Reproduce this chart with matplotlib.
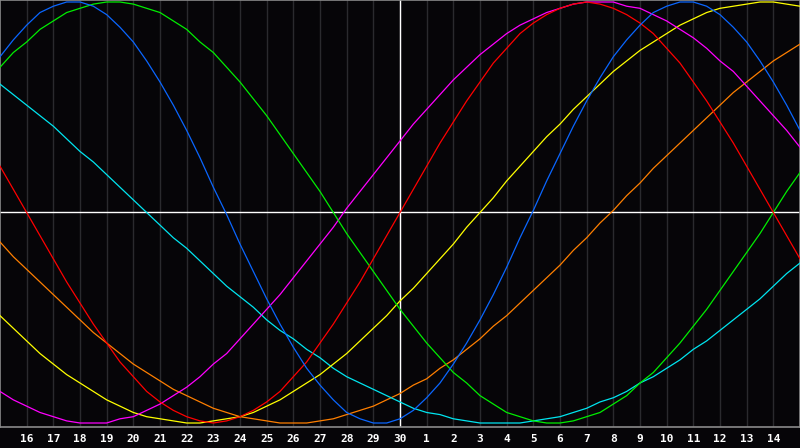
import matplotlib
matplotlib.use("Agg")
import matplotlib.pyplot as plt

# day labels along the bottom (15th .. 15th of next month)
day_labels = [str(i) for i in range(16, 31)] + [str(i) for i in range(1, 15)]

# cycle values in percent, every half day from the 15th to the 15th
physical = [74, 82, 89, 95, 98, 100, 100, 98, 94, 88, 81, 72, 62, 51, 39, 26, 12, -1, -15, -28,
            -41, -53, -64, -74, -82, -89, -95, -98, -100, -100, -98, -94, -88, -81, -72, -62, -51, -39, -26, -12,
            1, 15, 28, 41, 53, 64, 74, 82, 89, 95, 98, 100, 100, 98, 94, 88, 81, 72, 62, 51, 39]
emotional = [22, 11, 0, -11, -22, -33, -43, -53, -62, -71, -78, -85, -90, -94, -97, -99, -100, -99, -97, -94,
             -90, -85, -78, -71, -62, -53, -43, -33, -22, -11, 0, 11, 22, 33, 43, 53, 62, 71, 78, 85,
             90, 94, 97, 99, 100, 99, 97, 94, 90, 85, 78, 71, 62, 53, 43, 33, 22, 11, 0, -11, -22]
intellectual = [69, 76, 81, 87, 91, 95, 97, 99, 100, 100, 99, 97, 95, 91, 87, 81, 76, 69, 62, 54,
                46, 37, 28, 19, 10, 0, -10, -19, -28, -37, -46, -54, -62, -69, -76, -81, -87, -91, -95, -97,
                -99, -100, -100, -99, -97, -95, -91, -87, -81, -76, -69, -62, -54, -46, -37, -28, -19, -10, 0, 10, 19]
intuitive = [-85, -89, -92, -95, -97, -99, -100, -100, -100, -98, -97, -94, -91, -87, -83, -78, -72, -67, -60, -53,
             -46, -39, -31, -23, -15, -7, 2, 10, 18, 26, 34, 42, 49, 56, 63, 69, 75, 80, 85, 89,
             92, 95, 97, 99, 100, 100, 100, 98, 97, 94, 91, 87, 83, 78, 72, 67, 60, 53, 46, 39, 31]
aesthetic = [-49, -55, -61, -67, -72, -77, -81, -85, -89, -92, -95, -97, -98, -99, -100, -100, -99, -98, -97, -95,
             -92, -89, -85, -81, -77, -72, -67, -61, -55, -49, -42, -36, -29, -22, -15, -7, 0, 7, 15, 22,
             29, 36, 42, 49, 55, 61, 67, 72, 77, 81, 85, 89, 92, 95, 97, 98, 99, 100, 100, 99, 98]
awareness = [-14, -21, -27, -33, -39, -45, -51, -57, -62, -67, -72, -76, -80, -84, -87, -90, -93, -95, -97, -98,
             -99, -100, -100, -100, -99, -98, -96, -94, -92, -89, -86, -82, -79, -74, -70, -65, -60, -54, -49, -43,
             -37, -31, -25, -18, -12, -5, 1, 8, 14, 21, 27, 33, 39, 45, 51, 57, 62, 67, 72, 76, 80]
spiritual = [61, 56, 51, 46, 41, 35, 29, 24, 18, 12, 6, 0, -6, -12, -17, -23, -29, -35, -40, -45,
             -51, -56, -60, -65, -69, -74, -78, -81, -84, -87, -90, -93, -95, -96, -98, -99, -100, -100, -100, -100,
             -99, -98, -97, -95, -93, -90, -88, -85, -81, -78, -74, -70, -65, -61, -56, -51, -46, -41, -35, -29, -24]

bg = "#060508"
fig = plt.figure(figsize=(8, 4.48), dpi=100, facecolor=bg)
ax = fig.add_axes([0, 21 / 448, 1, 427 / 448], facecolor=bg)

days = [i / 2 for i in range(len(physical))]
for d in range(1, 30):
    ax.axvline(d, color="#2a2a2e", lw=1.0, zorder=1)
ax.axhline(0, color="white", lw=1.0, zorder=2)
ax.axvline(15, color="white", lw=1.0, zorder=2)

series = [(awareness, "#ff7f00"), (spiritual, "#00e5f0"), (aesthetic, "#ffff00"),
          (intuitive, "#ff00ff"), (intellectual, "#00ee00"), (emotional, "#ff0000"),
          (physical, "#0a66ff")]
for vals, col in series:
    ax.plot(days, vals, color=col, lw=0.9, zorder=3)

ax.set_xlim(0, 30)
ax.set_ylim(-100 - 400 / 210.5, 100 + 200 / 210.5)
ax.set_yticks([])
ax.set_xticks(range(1, 30))
ax.set_xticklabels(day_labels, color="white", fontsize=8, fontweight="bold",
                   family="DejaVu Sans Mono")
ax.tick_params(axis="x", length=0, pad=5)
for s in ax.spines.values():
    s.set_color("#8a8a8a")
    s.set_linewidth(1.2)

fig.savefig("out.png", dpi=100, facecolor=bg)
